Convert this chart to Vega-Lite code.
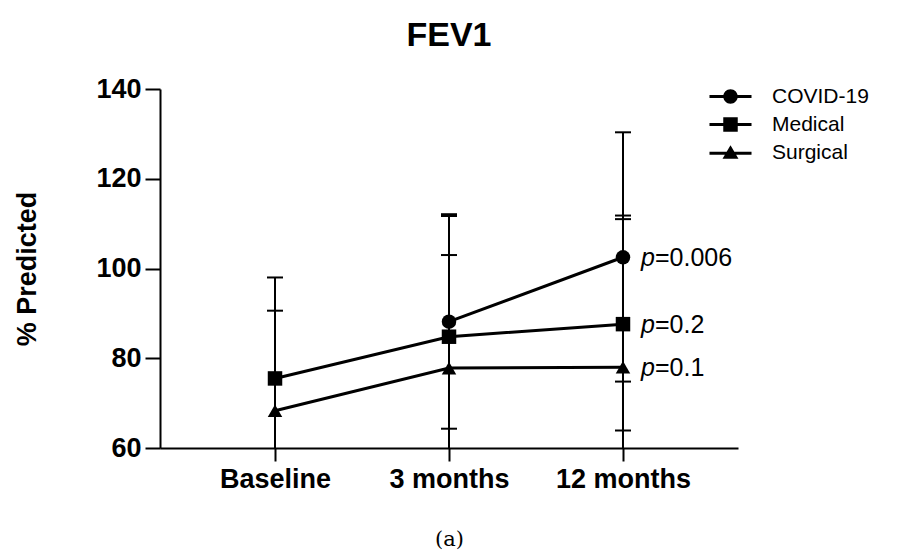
{
  "$schema": "https://vega.github.io/schema/vega-lite/v6.json",
  "width": 578,
  "height": 359,
  "autosize": {"type": "none"},
  "padding": {"left": 160, "top": 89, "right": 161, "bottom": 102},
  "title": {"text": "FEV1", "fontSize": 34, "fontWeight": "bold", "color": "black", "font": "Liberation Sans", "anchor": "middle", "frame": "group", "baseline": "alphabetic", "offset": -5},
  "datasets": {
    "stats": [
      {"time": "Baseline", "group": "Medical", "mean": 75.5, "lo": 53.0, "hi": 98.0},
      {"time": "Baseline", "group": "Surgical", "mean": 68.3, "lo": 46.0, "hi": 90.6},
      {"time": "3 months", "group": "COVID-19", "mean": 88.15, "lo": 64.3, "hi": 112.1},
      {"time": "3 months", "group": "Medical", "mean": 84.8, "lo": 57.9, "hi": 111.7},
      {"time": "3 months", "group": "Surgical", "mean": 77.8, "lo": 52.6, "hi": 103.0},
      {"time": "12 months", "group": "COVID-19", "mean": 102.5, "lo": 74.8, "hi": 130.35},
      {"time": "12 months", "group": "Medical", "mean": 87.6, "lo": 63.9, "hi": 111.8},
      {"time": "12 months", "group": "Surgical", "mean": 78.0, "lo": 45.0, "hi": 111.0}
    ],
    "pvals": [
      {"time": "12 months", "group": "COVID-19", "mean": 102.5, "label": "=0.006"},
      {"time": "12 months", "group": "Medical", "mean": 87.6, "label": "=0.2"},
      {"time": "12 months", "group": "Surgical", "mean": 78.0, "label": "=0.1"}
    ]
  },
  "data": {"name": "stats"},
  "encoding": {
    "x": {
      "field": "time", "type": "nominal",
      "sort": ["Baseline", "3 months", "12 months"],
      "scale": {"type": "point", "padding": 0.661, "domain": ["Baseline", "3 months", "12 months"]},
      "axis": {"title": "(a)", "titleFont": "DejaVu Serif", "titleFontSize": 21, "titleFontWeight": "normal", "titleColor": "black", "titlePadding": 36, "labelAngle": 0, "tickSize": 13, "labelPadding": 5}
    }
  },
  "layer": [
    {
      "mark": {"type": "rule", "color": "black", "strokeWidth": 2, "clip": true},
      "encoding": {
        "y": {"field": "lo", "type": "quantitative", "scale": {"domain": [60, 140], "nice": false, "zero": false},
          "axis": {"values": [60, 80, 100, 120, 140], "title": "% Predicted", "titleFontSize": 27, "titleFontWeight": "bold", "titleColor": "black", "titlePadding": 54, "tickSize": 15, "labelPadding": 4}},
        "y2": {"field": "hi"}
      }
    },
    {
      "transform": [{"fold": ["lo", "hi"], "as": ["bound", "val"]}],
      "mark": {"type": "tick", "color": "black", "thickness": 2, "size": 16, "orient": "horizontal", "clip": true, "opacity": 1},
      "encoding": {"y": {"field": "val", "type": "quantitative"}}
    },
    {
      "mark": {"type": "line", "color": "black", "strokeWidth": 3},
      "encoding": {"y": {"field": "mean", "type": "quantitative"}, "detail": {"field": "group"}}
    },
    {
      "mark": {"type": "point", "filled": true, "color": "black", "opacity": 1, "size": 210},
      "encoding": {
        "y": {"field": "mean", "type": "quantitative"},
        "shape": {
          "field": "group", "type": "nominal",
          "scale": {"domain": ["COVID-19", "Medical", "Surgical"], "range": ["circle", "square", "triangle-up"]},
          "legend": null
        }
      }
    },
    {
      "mark": {"type": "point", "filled": true, "color": "black", "opacity": 0, "size": 210},
      "encoding": {
        "y": {"field": "mean", "type": "quantitative"},
        "shape": {
          "field": "group", "type": "nominal",
          "scale": {"domain": ["COVID-19", "Medical", "Surgical"], "range": ["M-2.9,-0.2H2.9V0.2H-2.9ZM1,0A1,1,0,1,1,-1,0A1,1,0,1,1,1,0Z", "M-2.9,-0.2H2.9V0.2H-2.9ZM-1,-1H1V1H-1Z", "M-2.9,-0.1H2.9V0.3H-2.9ZM-1.1,0.85L0,-1L1.1,0.85Z"]},
          "legend": {
            "title": null, "orient": "none", "legendX": 560, "legendY": -3,
            "padding": 0, "symbolOffset": 0, "labelOffset": 31, "rowPadding": 6,
            "labelFont": "Liberation Sans", "labelFontSize": 21, "labelColor": "black", "symbolSize": 210,
            "symbolOpacity": 1, "symbolFillColor": "black"
          }
        }
      }
    },
    {
      "data": {"name": "pvals"},
      "mark": {"type": "text", "text": "p", "font": "Liberation Sans", "fontStyle": "italic", "fontSize": 25, "align": "left", "baseline": "middle", "dx": 18, "dy": 1, "color": "black"},
      "encoding": {"y": {"field": "mean", "type": "quantitative"}}
    },
    {
      "data": {"name": "pvals"},
      "mark": {"type": "text", "font": "Liberation Sans", "fontSize": 25, "align": "left", "baseline": "middle", "dx": 32, "dy": 1, "color": "black"},
      "encoding": {"y": {"field": "mean", "type": "quantitative"}, "text": {"field": "label"}}
    }
  ],
  "resolve": {"scale": {"shape": "independent"}, "legend": {"shape": "independent"}},
  "config": {
    "view": {"stroke": null},
    "font": "Liberation Sans",
    "axis": {"domainColor": "black", "domainWidth": 2, "tickColor": "black", "tickWidth": 2, "grid": false, "labelColor": "black", "labelFont": "Liberation Sans", "labelFontWeight": "bold", "labelFontSize": 27, "titleFont": "Liberation Sans"}
  }
}
